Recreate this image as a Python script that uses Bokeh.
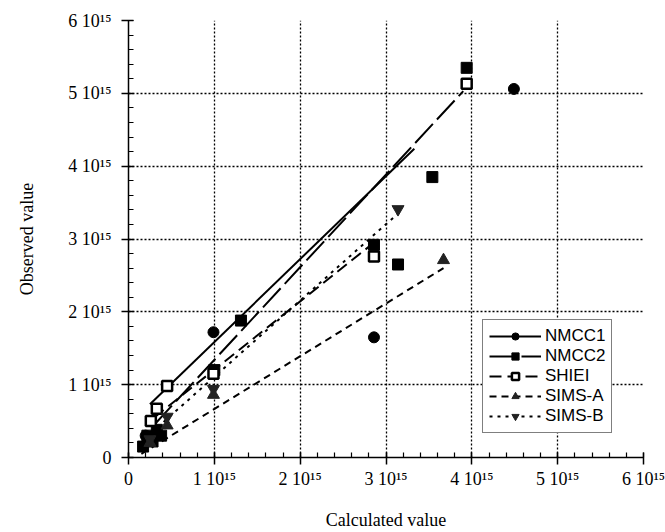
from bokeh.plotting import figure
from bokeh.models import Range1d, FixedTicker, Legend, LegendItem
from bokeh.embed import file_html
from bokeh.resources import INLINE

# values in units of 1e15
ticks = [0, 1, 2, 3, 4, 5, 6]
tick_labels = ["0", "1 10\u00b9\u2075", "2 10\u00b9\u2075", "3 10\u00b9\u2075",
               "4 10\u00b9\u2075", "5 10\u00b9\u2075", "6 10\u00b9\u2075"]

nmcc1_x = [0.20, 0.99, 2.86, 4.49]
nmcc1_y = [0.30, 1.72, 1.65, 5.06]
nmcc2_x = [0.17, 0.22, 0.28, 0.33, 0.38, 1.00, 1.31, 2.86, 3.14, 3.54, 3.94]
nmcc2_y = [0.15, 0.30, 0.22, 0.38, 0.30, 1.20, 1.88, 2.92, 2.65, 3.85, 5.35]
shiei_x = [0.26, 0.33, 0.45, 0.99, 2.86, 3.94]
shiei_y = [0.50, 0.67, 0.98, 1.15, 2.76, 5.13]
simsa_x = [0.25, 0.45, 0.99, 3.67]
simsa_y = [0.20, 0.44, 0.86, 2.71]
simsb_x = [0.25, 0.45, 0.99, 3.14]
simsb_y = [0.25, 0.56, 0.94, 3.41]

# fitted lines (end points)
fit1_x = [0.25, 3.33]; fit1_y = [0.73, 4.24]
fit2_x = [0.30, 3.90]; fit2_y = [0.45, 5.03]
fit3_x = [0.30, 2.86]; fit3_y = [0.55, 2.95]
fit4_x = [0.15, 3.67]; fit4_y = [0.05, 2.60]
fit5_x = [0.20, 3.14]; fit5_y = [0.27, 3.35]

p = figure(width=665, height=532, output_backend="svg", toolbar_location=None,
           x_range=Range1d(0, 6), y_range=Range1d(0, 6),
           min_border_left=128, min_border_right=22, min_border_top=20,
           min_border_bottom=73)
p.outline_line_color = None
p.background_fill_color = "white"

for ax in (p.xaxis[0], p.yaxis[0]):
    ax.ticker = FixedTicker(ticks=ticks, minor_ticks=[i / 5 for i in range(31)])
    ax.major_label_overrides = {t: l for t, l in zip(ticks, tick_labels)}
    ax.major_label_text_font = "Liberation Serif"
    ax.major_label_text_font_size = "18px"
    ax.major_label_text_color = "black"
    ax.axis_label_text_font = "Liberation Serif"
    ax.axis_label_text_font_size = "18px"
    ax.axis_label_text_font_style = "normal"
    ax.axis_label_text_color = "black"
    ax.axis_line_color = "black"
    ax.axis_line_width = 1.5
    ax.major_tick_line_color = "black"
    ax.major_tick_line_width = 1.5
    ax.minor_tick_line_color = "black"
    ax.minor_tick_line_width = 1.2
    ax.major_tick_in = 5
    ax.major_tick_out = 7
    ax.minor_tick_in = 5
    ax.minor_tick_out = 0

p.xaxis.axis_label = "Calculated value"
p.yaxis.axis_label = "Observed value"
p.xaxis.major_label_standoff = 4
p.xaxis.axis_label_standoff = 18
p.yaxis.major_label_standoff = 10
p.yaxis.axis_label_standoff = 28

for g in (p.xgrid[0], p.ygrid[0]):
    g.grid_line_color = "black"
    g.grid_line_dash = "2 2"
    g.grid_line_width = 1.3
    g.ticker = FixedTicker(ticks=ticks)

lc = "black"
l1 = p.line(fit1_x, fit1_y, line_color=lc, line_width=2)
l2 = p.line(fit2_x, fit2_y, line_color=lc, line_width=2, line_dash="26 6")
l3 = p.line(fit3_x, fit3_y, line_color=lc, line_width=2, line_dash="12 6")
l4 = p.line(fit4_x, fit4_y, line_color=lc, line_width=2, line_dash="7 5")
l5 = p.line(fit5_x, fit5_y, line_color=lc, line_width=2, line_dash="3 5")

s1 = p.scatter(nmcc1_x, nmcc1_y, marker="circle", size=11, fill_color="black", line_color="black")
s2 = p.scatter(nmcc2_x, nmcc2_y, marker="square", size=11, fill_color="black", line_color="black")
s3 = p.scatter(shiei_x, shiei_y, marker="square", size=10, fill_color="white", line_color="black", line_width=2.5)
s4 = p.scatter(simsa_x, simsa_y, marker="triangle", size=12, fill_color="#222222", line_color="#222222")
s5 = p.scatter(simsb_x, simsb_y, marker="inverted_triangle", size=12, fill_color="#222222", line_color="#222222")

legend = Legend(items=[
    LegendItem(label="NMCC1", renderers=[l1, s1]),
    LegendItem(label="NMCC2", renderers=[l2, s2]),
    LegendItem(label="SHIEI", renderers=[l3, s3]),
    LegendItem(label="SIMS-A", renderers=[l4, s4]),
    LegendItem(label="SIMS-B", renderers=[l5, s5]),
], location=(354, 24))
legend.border_line_color = "black"
legend.border_line_width = 1.5
legend.background_fill_color = "white"
legend.background_fill_alpha = 1
legend.label_text_font = "Liberation Sans"
legend.label_text_font_size = "17px"
legend.label_text_color = "black"
legend.glyph_width = 52
legend.glyph_height = 18
legend.label_height = 18
legend.spacing = 0
legend.padding = 6
legend.margin = 0
legend.label_standoff = 4
p.add_layout(legend)

open("out.html", "w").write(file_html(p, INLINE))
